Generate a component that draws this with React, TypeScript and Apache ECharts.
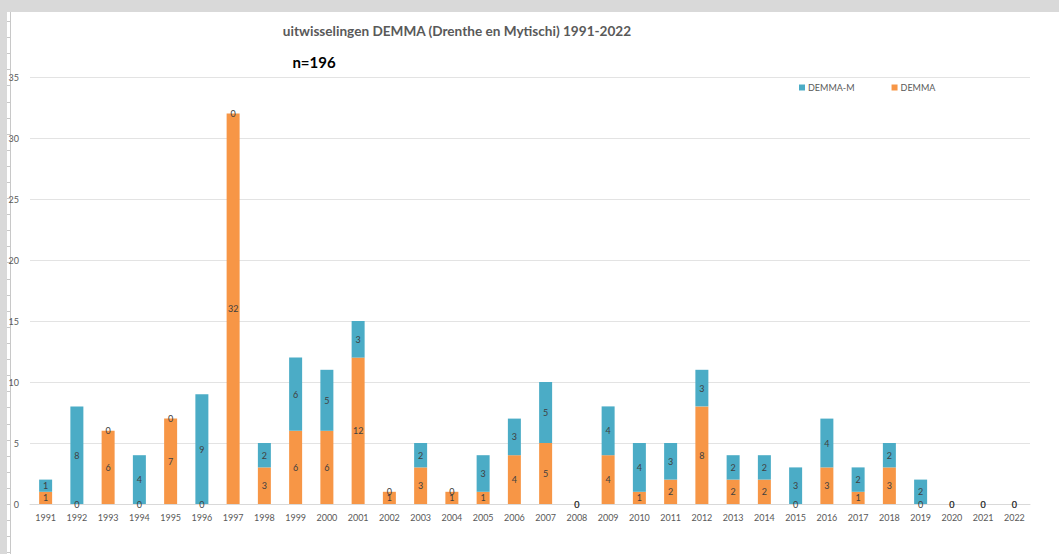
import React, { useEffect, useRef } from "react";
import * as echarts from "echarts";

const years = [
  "1991","1992","1993","1994","1995","1996","1997","1998","1999","2000",
  "2001","2002","2003","2004","2005","2006","2007","2008","2009","2010",
  "2011","2012","2013","2014","2015","2016","2017","2018","2019","2020",
  "2021","2022",
];
const demma = [1,0,6,0,7,0,32,3,6,6,12,1,3,1,1,4,5,0,4,1,2,8,2,2,0,3,1,3,0,0,0,0];
const demmaM = [1,8,0,4,0,9,0,2,6,5,3,0,2,0,3,3,5,0,4,4,3,3,2,2,3,4,2,2,2,0,0,0];
const yTicks = { min: 0, max: 35, interval: 5 };
const titleText = "uitwisselingen DEMMA (Drenthe en Mytischi) 1991-2022";
const subText = "n=196";

const FONT = "Lato, 'Liberation Sans', sans-serif";

export default function App() {
  const ref = useRef<HTMLDivElement>(null);
  useEffect(() => {
    if (!ref.current) return;
    const chart = echarts.init(ref.current, undefined, { renderer: "svg" });
    const rulerTicks: any[] = [];
    for (let y = 21; y < 554; y += 16.1) {
      rulerTicks.push({
        type: "line",
        shape: { x1: 7, y1: Math.round(y) + 0.5, x2: 10, y2: Math.round(y) + 0.5 },
        style: { stroke: "#c8c8c8", lineWidth: 1 },
        silent: true,
      });
    }
    const labelStyle = {
      show: true,
      position: "inside" as const,
      fontSize: 9,
      color: "#404040",
      fontFamily: FONT,
    };
    chart.setOption({
      animation: false,
      backgroundColor: "#ffffff",
      textStyle: { fontFamily: FONT },
      graphic: [
        { type: "rect", shape: { x: 0, y: 0, width: 1059, height: 12 }, style: { fill: "#d9d9d9" }, silent: true },
        { type: "rect", shape: { x: 0, y: 0, width: 7, height: 554 }, style: { fill: "#d9d9d9" }, silent: true },
        { type: "line", shape: { x1: 10.5, y1: 12, x2: 10.5, y2: 554 }, style: { stroke: "#c8c8c8", lineWidth: 1 }, silent: true },
        ...rulerTicks,
        {
          type: "text",
          x: 457,
          y: 31,
          style: {
            text: titleText,
            fontSize: 13.6,
            fontWeight: "bold",
            fill: "#595959",
            fontFamily: FONT,
            textAlign: "center",
            textVerticalAlign: "middle",
          },
        },
        {
          type: "text",
          x: 314,
          y: 62,
          style: {
            text: subText,
            fontSize: 15,
            fontWeight: "bold",
            fill: "#000000",
            fontFamily: FONT,
            textAlign: "center",
            textVerticalAlign: "middle",
          },
        },
      ],
      legend: {
        data: ["DEMMA-M", "DEMMA"],
        left: 799,
        top: 83,
        padding: 0,
        icon: "rect",
        itemWidth: 6,
        itemHeight: 6,
        itemGap: 37,
        textStyle: { fontSize: 9, color: "#595959", fontFamily: FONT, padding: [0, 0, 0, -2] },
      },
      grid: { left: 30, right: 29, top: 77, bottom: 50, containLabel: false },
      xAxis: {
        type: "category",
        data: years,
        axisTick: { show: false },
        axisLine: { lineStyle: { color: "#d9d9d9" } },
        axisLabel: { fontSize: 9, color: "#595959", margin: 9, fontFamily: FONT },
      },
      yAxis: {
        type: "value",
        min: yTicks.min,
        max: yTicks.max,
        interval: yTicks.interval,
        axisLine: { show: false },
        axisTick: { show: false },
        axisLabel: { fontSize: 9, color: "#595959", margin: 11, fontFamily: FONT },
        splitLine: { lineStyle: { color: "#e3e3e3" } },
      },
      series: [
        {
          name: "DEMMA",
          type: "bar",
          stack: "total",
          data: demma,
          barWidth: 13,
          itemStyle: { color: "#f79646" },
          label: labelStyle,
        },
        {
          name: "DEMMA-M",
          type: "bar",
          stack: "total",
          data: demmaM,
          barWidth: 13,
          itemStyle: { color: "#4bacc6" },
          label: labelStyle,
        },
      ],
    });
    return () => chart.dispose();
  }, []);
  return (
    <div
      ref={ref}
      style={{ position: "fixed", left: 0, top: 0, width: 1059, height: 554 }}
    />
  );
}
